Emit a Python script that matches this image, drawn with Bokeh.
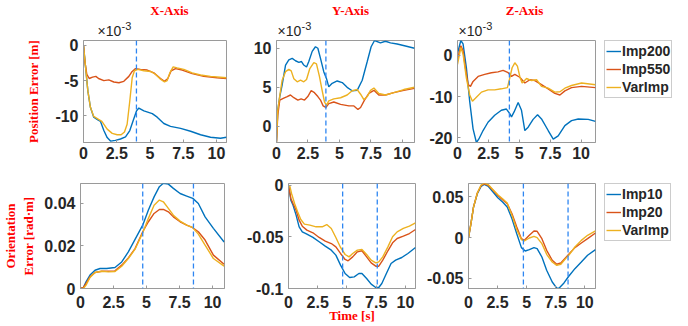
from bokeh.plotting import figure
from bokeh.models import Range1d, FixedTicker, Span, Legend, LegendItem
from bokeh.layouts import row, column
from bokeh.core.properties import value
from bokeh.embed import file_html
from bokeh.resources import INLINE

# ---------------- data ----------------
# Position error, X axis (x 1e-3 m)
px_t_imp200 = [0, 0.16, 0.33, 0.52, 0.77, 1.08, 1.28, 1.53, 1.78, 2.03, 2.4, 2.78, 3.16, 3.48, 3.73, 3.99,
               4.16, 4.54, 5.17, 5.54, 6.04, 6.54, 7.3, 8.05, 8.8, 9.55, 10.3, 10.75]
px_imp200 = [0, -3.2, -6.5, -8.8, -10.2, -10.6, -10.8, -12.1, -13.1, -13.6, -13.5, -13.3, -13.0, -12.1, -10.7,
             -9.3, -8.9, -9.3, -9.7, -10.2, -11.1, -11.5, -11.8, -12.2, -12.7, -13.05, -13.2, -13.05]
px_t_imp550 = [0, 0.1, 0.25, 0.43, 0.68, 0.93, 1.13, 1.53, 1.9, 2.28, 2.66, 3.03, 3.41, 3.66, 3.91, 4.28,
               4.79, 5.29, 5.79, 6.09, 6.34, 6.59, 6.92, 7.42, 8.17, 9.04, 10.04, 10.75]
px_imp550 = [0, -2.25, -4.1, -4.7, -4.5, -4.4, -4.7, -5.0, -4.9, -5.2, -5.3, -5.1, -4.4, -3.7, -3.3, -3.4,
             -3.5, -3.9, -4.7, -5.1, -4.7, -3.6, -3.3, -3.5, -4.0, -4.4, -4.6, -4.7]
px_t_varimp = [0, 0.16, 0.33, 0.52, 0.77, 1.13, 1.38, 1.78, 2.16, 2.53, 2.83, 3.08, 3.28, 3.48, 3.66, 3.83,
               4.08, 4.54, 5.04, 5.41, 5.79, 6.09, 6.29, 6.49, 6.74, 7.04, 7.54, 8.17, 8.8, 9.55, 10.75]
px_varimp = [0, -3.2, -6.5, -8.8, -10.1, -10.5, -10.8, -11.9, -12.5, -12.7, -12.7, -12.3, -11.2, -7.9, -4.6,
             -3.6, -3.4, -3.6, -3.7, -4.1, -4.8, -5.2, -5.0, -3.9, -3.05, -3.2, -3.4, -3.9, -4.2, -4.4, -4.6]

# Position error, Y axis (x 1e-3 m)
py_t_imp200 = [0, 0.1, 0.26, 0.45, 0.72, 0.98, 1.25, 1.51, 1.78, 1.99, 2.17, 2.39, 2.57, 2.84, 3.1, 3.29, 3.5,
               3.76, 3.98, 4.16, 4.43, 4.83, 5.23, 5.62, 6.02, 6.42, 6.82, 7.22, 7.53, 7.8, 8.27, 8.67, 9.07,
               9.6, 10.26, 10.98]
py_imp200 = [-2.0, 2.06, 3.8, 5.3, 7.85, 8.5, 8.7, 8.4, 8.2, 8.3, 7.85, 7.6, 8.3, 9.6, 10.2, 10.0, 8.7, 7.0,
             6.1, 5.05, 5.5, 5.8, 5.6, 4.98, 4.55, 4.6, 5.9, 8.3, 10.2, 11.0, 10.7, 10.9, 10.7, 10.55, 10.3, 10.0]
py_t_imp550 = [0, 0.1, 0.26, 0.58, 0.85, 1.11, 1.38, 1.7, 1.96, 2.23, 2.49, 2.76, 3.02, 3.29, 3.5, 3.71, 3.92,
               4.16, 4.56, 5.1, 5.76, 6.16, 6.48, 6.69, 7.0, 7.35, 7.75, 8.14, 8.67, 9.33, 10.13, 10.98]
py_imp550 = [-2.0, 1.4, 3.35, 3.6, 3.8, 4.0, 3.65, 3.35, 3.5, 3.35, 3.8, 4.55, 4.3, 3.8, 3.35, 2.6, 2.4, 2.9,
             3.1, 2.8, 2.6, 2.6, 2.15, 2.4, 3.35, 4.2, 4.6, 4.0, 4.0, 4.3, 4.6, 4.85]
py_t_varimp = [0, 0.1, 0.26, 0.45, 0.72, 0.98, 1.17, 1.38, 1.65, 1.91, 2.17, 2.39, 2.65, 2.97, 3.18, 3.42,
               3.63, 3.82, 3.98, 4.16, 4.56, 5.1, 5.62, 6.02, 6.42, 6.69, 6.95, 7.22, 7.48, 7.75, 8.14, 8.67,
               9.33, 10.13, 10.98]
py_varimp = [-2.0, 2.0, 3.9, 5.9, 7.0, 7.3, 7.1, 6.1, 5.7, 5.9, 5.7, 6.0, 7.4, 8.15, 8.0, 6.35, 4.6, 3.1, 2.7,
             3.25, 3.5, 3.65, 4.0, 4.55, 4.7, 4.1, 3.4, 3.8, 4.6, 4.9, 4.2, 4.0, 4.3, 4.7, 5.0]

# Position error, Z axis (x 1e-3 m)
pz_t_imp200 = [0, 0.27, 0.45, 0.72, 0.99, 1.26, 1.53, 1.72, 2.07, 2.47, 3.01, 3.55, 3.96, 4.23, 4.37, 4.58,
               4.91, 5.18, 5.45, 5.72, 6.12, 6.48, 6.8, 7.34, 7.75, 8.15, 8.69, 9.23, 9.77, 10.58, 11.17]
pz_imp200 = [0.5, 3.6, 2.8, -3.0, -11.2, -17.8, -21.1, -20.3, -18.2, -16.2, -14.5, -13.3, -13.0, -14.1, -14.9,
             -13.7, -11.4, -13.3, -18.2, -17.4, -15.5, -14.4, -15.4, -18.2, -20.3, -19.5, -17.0, -15.8, -15.4,
             -15.5, -16.0]
pz_t_imp550 = [0, 0.27, 0.45, 0.64, 0.86, 1.05, 1.26, 1.67, 2.2, 2.74, 3.28, 3.69, 4.1, 4.37, 4.64, 5.04,
               5.45, 5.86, 6.26, 6.8, 7.34, 7.88, 8.29, 8.69, 9.23, 10.04, 11.17]
pz_imp550 = [-1.0, 2.35, 1.1, -3.0, -7.1, -7.5, -6.3, -5.1, -4.6, -4.2, -4.0, -3.65, -4.2, -5.1, -4.6, -5.3,
             -6.7, -5.9, -6.1, -7.1, -8.1, -9.2, -9.6, -8.6, -7.8, -7.5, -7.8]
pz_t_varimp = [0, 0.27, 0.45, 0.72, 0.99, 1.21, 1.45, 1.94, 2.47, 3.01, 3.55, 4.04, 4.23, 4.42, 4.64, 4.85,
               5.04, 5.23, 5.59, 5.99, 6.4, 6.8, 7.34, 7.88, 8.29, 8.69, 9.23, 10.04, 11.17]
pz_varimp = [-2.2, 1.9, 0.3, -5.5, -9.6, -11.1, -10.4, -8.9, -8.35, -8.35, -8.1, -7.8, -5.5, -3.0, -1.8, -2.6,
             -5.1, -6.7, -5.6, -6.1, -5.9, -7.5, -7.95, -8.9, -8.8, -7.95, -7.3, -6.7, -7.1]

# Orientation error, X axis (rad*m)
ox_t_imp10 = [0, 0.22, 0.42, 0.72, 1.1, 1.48, 1.98, 2.61, 3.12, 3.62, 4.13, 4.71, 5.14, 5.57, 5.97, 6.27,
              6.65, 7.03, 7.54, 8.04, 8.5, 8.92, 9.43, 10.06, 10.87]
ox_imp10 = [0, 0.0005, 0.0031, 0.0063, 0.0086, 0.0094, 0.0094, 0.0099, 0.0125, 0.0172, 0.0231, 0.0298, 0.0369,
            0.0431, 0.0479, 0.0495, 0.0491, 0.0471, 0.0447, 0.0435, 0.0424, 0.0400, 0.0337, 0.0283, 0.0219]
ox_t_imp20 = [0, 0.22, 0.42, 0.72, 1.1, 1.61, 2.11, 2.61, 3.12, 3.62, 4.13, 4.71, 5.14, 5.57, 5.97, 6.27,
              6.65, 7.03, 7.54, 8.04, 8.5, 8.92, 9.43, 10.06, 10.87]
ox_imp20 = [0, 0.0005, 0.0024, 0.0055, 0.0075, 0.0081, 0.0081, 0.0083, 0.011, 0.0144, 0.0188, 0.0267, 0.0314,
            0.0353, 0.0372, 0.0372, 0.0361, 0.0337, 0.0314, 0.0298, 0.0286, 0.0267, 0.0228, 0.0157, 0.0114]
ox_t_varimp = [0, 0.22, 0.42, 0.72, 1.1, 1.61, 2.11, 2.61, 3.12, 3.62, 4.13, 4.71, 5.14, 5.57, 5.97, 6.27,
               6.65, 7.03, 7.54, 8.04, 8.5, 8.92, 9.43, 10.06, 10.87]
ox_varimp = [0, 0, 0.0016, 0.0052, 0.0075, 0.0081, 0.0078, 0.008, 0.0105, 0.0141, 0.0185, 0.0262, 0.033,
             0.0392, 0.0416, 0.0408, 0.0377, 0.0345, 0.0317, 0.0298, 0.0286, 0.0256, 0.0204, 0.0141, 0.0105]

# Orientation error, Y axis (rad*m)
oy_t_imp10 = [0, 0.2, 0.39, 0.65, 0.91, 1.18, 1.57, 2.09, 2.62, 3.14, 3.66, 4.05, 4.45, 4.84, 5.23, 5.62,
              6.02, 6.28, 6.68, 7.07, 7.46, 7.72, 7.98, 8.37, 8.77, 9.16, 9.69, 10.21, 10.86]
oy_imp10 = [0, -0.0145, -0.0194, -0.029, -0.0403, -0.0452, -0.0474, -0.0506, -0.0548, -0.059, -0.0629,
            -0.0677, -0.0774, -0.0855, -0.0894, -0.0887, -0.0855, -0.0855, -0.0903, -0.0958, -0.099, -0.099,
            -0.0952, -0.0855, -0.0758, -0.0726, -0.07, -0.0661, -0.0603]
oy_t_imp20 = [0, 0.2, 0.39, 0.65, 0.91, 1.18, 1.57, 2.09, 2.62, 3.14, 3.66, 4.05, 4.45, 4.84, 5.1, 5.49,
              5.89, 6.28, 6.68, 7.07, 7.46, 7.72, 8.06, 8.5, 8.9, 9.29, 9.82, 10.34, 10.86]
oy_imp20 = [0, -0.0129, -0.0177, -0.0242, -0.0339, -0.0397, -0.0435, -0.0461, -0.0506, -0.0542, -0.0565,
            -0.0597, -0.0661, -0.0719, -0.0732, -0.0694, -0.0645, -0.0635, -0.0694, -0.0752, -0.0784, -0.0784,
            -0.0726, -0.0635, -0.0558, -0.0516, -0.0494, -0.0468, -0.0429]
oy_t_varimp = [0, 0.13, 0.26, 0.52, 0.78, 1.05, 1.36, 1.83, 2.36, 2.88, 3.27, 3.66, 4.05, 4.45, 4.84, 5.18,
               5.49, 5.89, 6.28, 6.68, 7.07, 7.46, 7.72, 8.06, 8.5, 8.9, 9.29, 9.82, 10.34, 10.86]
oy_varimp = [0, -0.0016, -0.0081, -0.0177, -0.0258, -0.0332, -0.0377, -0.0387, -0.0403, -0.0403, -0.0381,
             -0.0419, -0.0506, -0.0603, -0.0671, -0.0694, -0.0661, -0.0629, -0.0623, -0.0671, -0.0726, -0.0752,
             -0.0742, -0.0694, -0.0597, -0.05, -0.0452, -0.0419, -0.0397, -0.0365]

# Orientation error, Z axis (rad*m)
oz_t_imp10 = [0, 0.21, 0.43, 0.76, 1.08, 1.35, 1.71, 2.11, 2.52, 2.93, 3.33, 3.74, 4.15, 4.55, 4.88, 5.23,
              5.63, 5.9, 6.31, 6.72, 7.2, 7.59, 7.8, 8.21, 8.62, 9.15, 9.7, 10.24, 10.92]
oz_imp10 = [0, 0.0171, 0.0375, 0.0539, 0.0628, 0.0653, 0.0628, 0.0559, 0.049, 0.0437, 0.0375, 0.0233, 0.0049,
            -0.0122, -0.0163, -0.0147, -0.0122, -0.0135, -0.0237, -0.04, -0.0543, -0.0618, -0.0618, -0.0555,
            -0.0473, -0.038, -0.0298, -0.0216, -0.0147]
oz_t_imp20 = [0, 0.21, 0.43, 0.76, 1.08, 1.35, 1.71, 2.11, 2.52, 2.93, 3.33, 3.74, 4.15, 4.55, 4.8, 5.23,
              5.63, 5.9, 6.31, 6.72, 7.2, 7.59, 7.94, 8.35, 8.62, 9.15, 9.7, 10.24, 10.92]
oz_imp20 = [0, 0.0171, 0.0375, 0.0547, 0.0636, 0.0661, 0.064, 0.058, 0.0518, 0.0465, 0.0416, 0.0294, 0.0131,
            -0.0012, -0.0033, 0.0029, 0.0082, 0.0078, -0.0012, -0.0155, -0.0277, -0.0326, -0.031, -0.0245,
            -0.0204, -0.0122, -0.0065, -0.0012, 0.0057]
oz_t_varimp = [0, 0.21, 0.43, 0.76, 1.08, 1.35, 1.71, 2.11, 2.52, 2.93, 3.33, 3.74, 4.15, 4.55, 4.8, 5.23,
               5.63, 5.9, 6.31, 6.72, 7.2, 7.59, 7.94, 8.35, 8.62, 9.15, 9.7, 10.24, 10.92]
oz_varimp = [0, 0.0171, 0.0375, 0.0547, 0.0645, 0.0669, 0.0649, 0.0588, 0.0526, 0.0478, 0.0424, 0.0273, 0.0098,
             -0.0024, -0.0041, -0.0004, 0.0016, 0, -0.0073, -0.0204, -0.0298, -0.0339, -0.0326, -0.0257, -0.0216,
             -0.0114, -0.0033, 0.0029, 0.0082]

# switching instants (dashed lines), seconds
switch_px = [3.98]
switch_py = [3.93]
switch_pz = [4.2]
switch_ox = [4.71, 8.55]
switch_oy = [4.63, 7.59]
switch_oz = [4.72, 8.56]

# ticks and labels
t_ticks = [0, 2.5, 5, 7.5, 10]
t_labels = ["0", "2.5", "5", "7.5", "10"]
px_ticks = [-10, -5, 0]
px_labels = ["-10", "-5", "0"]
py_ticks = [0, 5, 10]
py_labels = ["0", "5", "10"]
pz_ticks = [-20, -10, 0]
pz_labels = ["-20", "-10", "0"]
ox_ticks = [0, 0.02, 0.04]
ox_labels = ["0", "0.02", "0.04"]
oy_ticks = [-0.1, -0.05, 0]
oy_labels = ["-0.1", "-0.05", "0"]
oz_ticks = [-0.05, 0, 0.05]
oz_labels = ["-0.05", "0", "0.05"]

pos_names = ["Imp200", "Imp550", "VarImp"]
ori_names = ["Imp10", "Imp20", "VarImp"]
col_titles = ["X-Axis", "Y-Axis", "Z-Axis"]
exp_base = "\u00d710"
exp_power = "-3"

# ---------------- style ----------------
BLUE, RED, YEL = "#0072BD", "#D95319", "#EDB120"
COLORS = (BLUE, RED, YEL)
DASH = "#2E86F2"
GREY = "#9a9a9a"
INK = "#262626"
SANS = "Liberation Sans"
SERIF = "Liberation Serif"
TICK_SIZE = "16px"
LW = 1.4
NAN = float("nan")


def overrides(ticks, labels):
    d = {}
    for tv, lb in zip(ticks, labels):
        d[tv] = lb
        d[str(tv)] = lb
    return d


def style_axis(ax, ticks, labels, standoff):
    ax.ticker = FixedTicker(ticks=ticks)
    ax.major_label_overrides = overrides(ticks, labels)
    ax.major_tick_in = 3
    ax.major_tick_out = 0
    ax.minor_tick_line_color = None
    ax.axis_line_color = GREY
    ax.major_tick_line_color = GREY
    ax.major_label_text_font = SANS
    ax.major_label_text_font_style = "bold"
    ax.major_label_text_font_size = TICK_SIZE
    ax.major_label_text_color = INK
    ax.major_label_standoff = standoff


def blank(p):
    p.grid.visible = False
    p.outline_line_color = None
    p.background_fill_color = "white"
    p.border_fill_color = "white"


def panel(W, H, L, R, T, B, xr, yr, yt, yl, switches, xstand):
    p = figure(width=W, height=H, x_range=Range1d(*xr), y_range=Range1d(*yr),
               output_backend="svg", toolbar_location=None,
               min_border_left=L, min_border_right=R, min_border_top=T, min_border_bottom=B)
    blank(p)
    p.outline_line_color = GREY
    p.outline_line_width = 1
    style_axis(p.xaxis[0], t_ticks, t_labels, xstand)
    style_axis(p.yaxis[0], yt, yl, 5)
    for s in switches:
        p.add_layout(Span(location=s, dimension="height", line_color=DASH,
                          line_dash="5 3", line_width=1.3))
    return p


def curves(p, series):
    for (t, v), c in zip(series, COLORS):
        p.line(t, v, line_color=c, line_width=LW)


def legend_panel(W, H, T, B, names):
    lf = figure(width=W, height=H, x_range=Range1d(0, 1), y_range=Range1d(0, 1),
                output_backend="svg", toolbar_location=None,
                min_border_left=0, min_border_right=0, min_border_top=T, min_border_bottom=B,
                x_axis_location=None, y_axis_location=None)
    blank(lf)
    # legend keys only (no visible data)
    keys = [lf.line([NAN, NAN], [NAN, NAN], line_color=c, line_width=LW) for c in COLORS]
    leg = Legend(items=[LegendItem(label=n, renderers=[r]) for n, r in zip(names, keys)],
                 location="top_left")
    leg.label_text_font = SANS
    leg.label_text_font_style = "bold"
    leg.label_text_font_size = "14px"
    leg.label_text_color = INK
    leg.glyph_width = 15
    leg.glyph_height = 18
    leg.label_height = 18
    leg.label_standoff = 1
    leg.padding = 1
    leg.spacing = 0
    leg.margin = 0
    leg.border_line_color = GREY
    leg.border_line_width = 1
    leg.background_fill_color = "white"
    leg.background_fill_alpha = 1
    lf.add_layout(leg)
    return lf


# ---------------- top text band (column titles and x10^-3 multipliers) ----------------
BAND_H = 38
band = figure(width=688, height=BAND_H, x_range=Range1d(0, 688), y_range=Range1d(BAND_H, 0),
              output_backend="svg", toolbar_location=None, min_border=0,
              x_axis_location=None, y_axis_location=None)
blank(band)
# centres of the column titles above the three upper panels (pixels)
band.text(x=[169, 350, 524], y=[10, 10, 10], text=col_titles,
          text_font=value(SERIF), text_font_size=value("13px"), text_font_style=value("bold"),
          text_color="red", text_align=value("center"), text_baseline=value("middle"))
exp_left = [97, 277, 458]
band.text(x=exp_left, y=[30.5] * 3, text=[exp_base] * 3,
          text_font=value(SANS), text_font_size=value("14px"), text_color=INK,
          text_align=value("left"), text_baseline=value("middle"))
band.text(x=[x + 24 for x in exp_left], y=[25.5] * 3, text=[exp_power] * 3,
          text_font=value(SANS), text_font_size=value("11px"), text_color=INK,
          text_align=value("left"), text_baseline=value("middle"))

# ---------------- panels ----------------
H1, H2 = 128, 160
T1, B1 = 2, 24
T2, B2 = 17, 38

f1 = panel(244, H1, 83, 18, T1, B1, (0, 10.75), (-13.8, 0.7), px_ticks, px_labels, switch_px, 4)
f2 = panel(180, H1, 32, 10, T1, B1, (0, 10.98), (-2.1, 11.0), py_ticks, py_labels, switch_py, 4)
f3 = panel(180, H1, 33, 9, T1, B1, (0, 11.17), (-21.1, 3.6), pz_ticks, pz_labels, switch_pz, 4)
l1 = legend_panel(84, H1, T1, B1, pos_names)
f4 = panel(244, H2, 80, 20, T2, B2, (0, 10.9), (0, 0.0494), ox_ticks, ox_labels, switch_ox, 7)
f5 = panel(180, H2, 33, 9, T2, B2, (0, 10.86), (-0.1, 0.0016), oy_ticks, oy_labels, switch_oy, 7)
f6 = panel(180, H2, 37, 9, T2, B2, (0, 10.92), (-0.0623, 0.0664), oz_ticks, oz_labels, switch_oz, 7)
l2 = legend_panel(84, H2, T2, B2, ori_names)

curves(f1, [(px_t_imp200, px_imp200), (px_t_imp550, px_imp550), (px_t_varimp, px_varimp)])
curves(f2, [(py_t_imp200, py_imp200), (py_t_imp550, py_imp550), (py_t_varimp, py_varimp)])
curves(f3, [(pz_t_imp200, pz_imp200), (pz_t_imp550, pz_imp550), (pz_t_varimp, pz_varimp)])
curves(f4, [(ox_t_imp10, ox_imp10), (ox_t_imp20, ox_imp20), (ox_t_varimp, ox_varimp)])
curves(f5, [(oy_t_imp10, oy_imp10), (oy_t_imp20, oy_imp20), (oy_t_varimp, oy_varimp)])
curves(f6, [(oz_t_imp10, oz_imp10), (oz_t_imp20, oz_imp20), (oz_t_varimp, oz_varimp)])

# axis labels
for ax, text in ((f1.yaxis[0], "Position Error [m]"), (f4.yaxis[0], "Orientation\nError [rad\u00b7m]"),
                 (f5.xaxis[0], "Time [s]")):
    ax.axis_label = text
    ax.axis_label_text_font = SERIF
    ax.axis_label_text_font_style = "bold"
    ax.axis_label_text_font_size = "13px"
    ax.axis_label_text_color = "red"
f1.yaxis[0].axis_label_standoff = 11
f4.yaxis[0].axis_label_standoff = 5
f5.xaxis[0].axis_label_standoff = -3

layout = column(band,
                row(f1, f2, f3, l1, spacing=0),
                row(f4, f5, f6, l2, spacing=0), spacing=0)

open("out.html", "w").write(file_html(layout, INLINE))
